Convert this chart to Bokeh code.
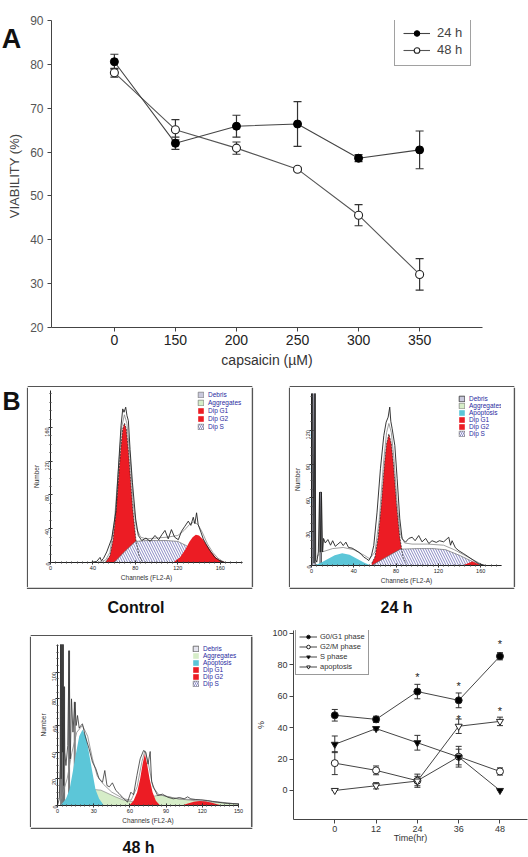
import math
from bokeh.plotting import figure
from bokeh.models import (Range1d, FixedTicker, SingleIntervalTicker, Whisker, TeeHead, Label,
                          Legend, LegendItem, ColumnDataSource, Spacer)
from bokeh.layouts import column, row
from bokeh.embed import file_html
from bokeh.resources import INLINE
from bokeh.core.properties import value

FONT = "Liberation Sans"
NAN = float("nan")

# ---------------- Panel A data ----------------
conc_labels = ["0", "150", "200", "250", "300", "350"]
via_24 = [80.6, 62.0, 65.9, 66.4, 58.6, 60.5]
err_24 = [1.7, 1.4, 2.5, 5.1, 0.8, 4.3]
via_48 = [78.1, 65.1, 60.9, 56.1, 45.6, 32.1]
err_48 = [1.0, 2.3, 1.4, 0.4, 2.4, 3.6]

# ---------------- Histogram data (channel, count) ----------------
ctrl_raw_ch = [38, 43.6, 46.7, 48, 50, 53, 57.7, 61.5, 64, 66.5, 68.1, 69.3, 70.9, 72.1, 73.4, 75, 77.2,
               80.3, 82.8, 86, 90, 94, 98.5, 102, 105, 107.9, 111, 114, 117, 120.5, 123.5, 126.7, 129.9,
               132.3, 134.6, 136.1, 137.7, 139.2, 141.8, 144, 147, 150.3, 155, 159.7, 164.4, 170, 181]
ctrl_raw_ct = [0, 1.3, 6, 2, 5, 12.5, 28.3, 59.7, 111, 162, 182, 178, 184, 174, 168, 134, 95,
               51.5, 32, 26, 29, 25, 32, 27, 33, 38, 28, 39, 30, 27, 37, 43, 49,
               44, 53.6, 46, 58.9, 45, 36, 28, 21, 14, 6, 2, 0, 0, 0]
ctrl_fit_ch = [45, 52, 56, 60, 64, 67, 69.7, 72, 75, 78, 81, 85, 90, 100, 110, 120, 126, 131, 135,
               139, 143, 148, 153, 158, 164]
ctrl_fit_ct = [0, 3, 12, 45, 110, 160, 175, 165, 125, 70, 40, 30, 28, 29, 30, 32, 38, 45, 48,
               45, 36, 22, 12, 5, 0]
ctrl_g1_ch = [52, 56, 59, 62, 64, 66, 68, 69.7, 71.5, 73.5, 75.5, 77.5, 80.5, 83.5, 87]
ctrl_g1_ct = [0.5, 8, 27, 64, 98, 132, 158, 165, 158, 132, 98, 64, 27, 8, 0.5]
ctrl_s_ch = [60, 70, 80, 90, 100, 110, 120, 128, 135, 142, 148]
ctrl_s_ct = [0, 13, 25, 26, 26, 26, 25, 20, 12, 5, 0]
ctrl_g2_ch = [117, 122, 127, 131, 134, 137, 140, 144, 148, 152, 156, 160, 165]
ctrl_g2_ct = [1.5, 6, 15, 24.5, 30, 33, 32, 27, 19.5, 12, 6, 2.5, 0.3]

h24_raw_ch = [0, 0.5, 1.2, 2.4, 3.2, 4, 5, 6.5, 7.6, 8.3, 9.4, 10.5, 11.4, 13, 15.5, 18, 20, 22.5, 25, 27.5,
              30, 32.5, 35, 38.4, 41, 44.7, 47, 49.5, 52, 54.2, 56.7, 58.9, 62, 65.2, 68.4, 70.6, 72.5, 74,
              75, 76.3, 78.8, 81, 83.5, 85.7, 88.9, 92, 95.2, 98, 101.4, 104.5, 108, 111, 114, 118, 121,
              125, 129.8, 131.5, 133, 136.1, 139.5, 144, 148.8, 153.5, 158.2, 164.5, 170, 180]
h24_raw_ct = [0, 160, 160, 2, 160, 5, 3, 12, 65, 11.8, 65, 12, 24, 20, 23, 18, 22, 17, 19, 21,
              17.7, 20.7, 16, 15.4, 14, 11.8, 10, 7.4, 6, 4.4, 8.9, 17.7, 47.3, 85.8, 115.4, 127.2, 131.6, 140.5,
              128, 121.3, 106.5, 77, 41.4, 23.7, 20.7, 24, 25.1, 22, 26.6, 21, 24, 19.5, 22, 20.5, 22,
              21, 25.1, 18, 22, 15.7, 13, 10.4, 7.4, 4.4, 1.5, 0, 0, 0]
h24_fit_ch = [5, 10, 20, 30, 40, 50, 55, 60, 64, 68, 71, 73.2, 75.5, 78, 81, 84, 88, 95, 110, 125,
              135, 145, 155, 163]
h24_fit_ct = [8, 12, 15, 16, 14, 9, 6, 12, 40, 90, 118, 126, 118, 95, 55, 28, 20, 19, 19, 18,
              14, 9, 4, 0]
h24_deb_left = [0.6, 8.0]
h24_deb_right = [3.6, 9.4]
h24_deb_top = [160, 65]
h24_apo_ch = [2, 8, 15, 22, 29, 36, 43, 50, 56]
h24_apo_ct = [0, 2, 5.5, 9, 10.9, 9.5, 6, 2.5, 0]
h24_g1_ch = [57, 60, 63, 66, 69, 71, 73.2, 75.5, 77.5, 80.5, 83.5, 86.5, 89.5]
h24_g1_ct = [2, 7.5, 25, 54, 90, 108, 116.7, 108, 90, 54, 25, 7.5, 2]
h24_s_ch = [57, 70, 84, 100, 115, 127, 140, 150, 161]
h24_s_ct = [0, 7, 14.5, 15, 15, 14, 9, 4.5, 0]
h24_g2_ch = [143, 148, 152, 156, 160]
h24_g2_ct = [0, 2, 3.5, 2, 0]

h48_raw_ch = [0, 1.5, 2.2, 2.6, 3.0, 3.6, 4.2, 4.6, 5.0, 5.5, 6.0, 7.0, 8.5, 9.6, 10.6, 11.6, 12.8, 14.4,
              15.5, 16.6, 18, 19.3, 20.7, 23, 26.2, 29, 31.8, 34.5, 37.3, 39.2, 41, 43, 45.5, 48.4, 51, 54,
              58, 60.8, 63, 65.8, 68.5, 71.3, 73.2, 75, 76.8, 78, 80.2, 83, 87, 91.2, 96, 101, 105, 107.8,
              110.5, 114.6, 118.8, 124.3, 128.4, 132.7, 136.8, 141, 150]
h48_raw_ct = [0, 5, 30, 130, 20, 130, 40, 130, 15, 89, 40, 30, 45, 116, 35, 80, 55, 77.5,
              60, 67.5, 58, 60, 61.2, 52, 42.5, 32.5, 27.5, 20, 17.5, 26.25, 15, 14, 17, 11.25, 9, 6,
              2.5, 10, 8, 22.5, 35, 41.25, 40, 31, 40.5, 18, 12.5, 7.5, 8.5, 6.25, 5, 6, 5, 6.5,
              5, 4.5, 4.25, 3.75, 3, 2.5, 2, 1.5, 1.25]
h48_fit_ch = [3, 8, 12, 16, 20.7, 25, 29, 33, 38, 45, 55, 61, 66, 70, 72.4, 75, 79, 84, 90, 100,
              120, 140, 150]
h48_fit_ct = [5, 20, 40, 55, 60, 52, 35, 22, 16, 10, 5, 4, 14, 33, 41, 33, 14, 8, 7, 5,
              4, 2, 1]
h48_deb_left = [2.6, 4.2, 5.3, 9.2, 13.9]
h48_deb_right = [3.4, 4.9, 5.9, 10.0, 14.7]
h48_deb_top = [130, 130, 89, 116, 77.5]
h48_apo_ch = [3, 7, 10, 13, 15.5, 18, 20.7, 23.5, 26, 28.5, 31.5, 34.5, 38]
h48_apo_ct = [0.5, 5, 12, 27, 40, 52, 56.75, 52, 40, 27, 12, 5, 0.5]
h48_agg_ch = [10, 20, 30, 36, 42, 48, 55, 61, 70, 80, 85, 92, 100, 110, 120, 130, 140, 150]
h48_agg_ct = [0, 8, 12, 11.5, 9, 6.5, 4, 3, 4, 7, 8, 6.5, 5, 4, 3, 2.5, 2, 1]
h48_g1_ch = [60, 63, 66, 68.5, 70.5, 72.4, 74.3, 76.3, 78.8, 81.5, 84.5]
h48_g1_ct = [0.5, 3.5, 10, 20, 31, 38.75, 31, 20, 10, 3.5, 0.5]
h48_g2_ch = [103, 108, 113, 118, 123, 128, 133, 137]
h48_g2_ct = [0, 1.5, 2.8, 3.3, 3, 2, 0.8, 0]

# ---------------- Cell-cycle time course ----------------
t_hours = [0, 12, 24, 36, 48]
g1_phase = [47.9, 45.3, 63.0, 57.4, 85.5]
g1_err = [3.7, 2.0, 4.6, 4.7, 2.3]
g2m_phase = [17.4, 12.8, 6.2, 21.5, 12.1]
g2m_err = [7.3, 2.8, 4.2, 6.6, 2.3]
s_phase = [29.4, 39.4, 30.4, 21.3, 0.0]
s_err = [5.3, 1.0, 4.7, 5.0, 0.0]
apoptosis = [0.0, 3.0, 6.0, 40.9, 44.0]
apo_err = [0.0, 2.0, 3.0, 4.6, 2.7]
star_t = [24, 36, 48, 36, 48]
star_y = [74.0, 68.7, 94.9, 47.4, 52.8]

RED = "#ec1c24"
CYAN = "#5cc6d8"
GREEN = "#d6edc8"
DEBRIS = "#c9c9dd"
LEG_TXT = "#2a2aa0"
BOX_COLOR = "#555555"
BOX_W = 1.6


def base_fig(width, height, borders, xr, yr, **kw):
    l, t, r, b = borders
    p = figure(width=width, height=height, output_backend="svg", toolbar_location=None,
               title_location=None, x_range=Range1d(*xr), y_range=Range1d(*yr),
               min_border_left=l, min_border_right=r, min_border_top=t, min_border_bottom=b, **kw)
    p.outline_line_color = None
    p.grid.visible = False
    p.background_fill_color = "white"
    p.border_fill_color = "white"
    return p


def text_fig(width, height, borders=(0, 0, 0, 0)):
    l, t, r, b = borders
    return base_fig(width, height, borders, (0, width - l - r), (0, height - t - b),
                    x_axis_location=None, y_axis_location=None)


def add_label(p, x, y, text, size, bold=False, color="#111", angle=0.0):
    p.add_layout(Label(x=x, y=y, text=text, text_font=FONT, text_font_size=size,
                       text_font_style="bold" if bold else "normal", text_color=color,
                       text_align="center", text_baseline="middle", angle=angle))


def edges(p, x0, y0, x1, y1):
    p.segment(x0=x0, y0=y0, x1=x1, y1=y1, line_color=BOX_COLOR, line_width=BOX_W)


def iso(p, w):
    return column(Spacer(width=w, height=0), p)


# ================= Panel A =================
pA = base_fig(504, 370, (27, 20, 46, 40), (-1.03, 6.03), (20, 90))
x_idx = list(range(len(conc_labels)))

for vals, errs in ((via_24, err_24), (via_48, err_48)):
    src = ColumnDataSource(dict(base=x_idx, upper=[v + e for v, e in zip(vals, errs)],
                                lower=[v - e for v, e in zip(vals, errs)]))
    pA.add_layout(Whisker(source=src, base="base", upper="upper", lower="lower",
                          line_color="#333", line_width=1.2,
                          upper_head=TeeHead(size=8, line_color="#333", line_width=1.2),
                          lower_head=TeeHead(size=8, line_color="#333", line_width=1.2)))

pA.line(x_idx, via_48, line_color="#555", line_width=1.1, legend_label="48 h")
pA.scatter(x_idx, via_48, marker="circle", size=8, fill_color="white", line_color="#222",
           line_width=1.1, legend_label="48 h")
pA.line(x_idx, via_24, line_color="#444", line_width=1.1, legend_label="24 h")
pA.scatter(x_idx, via_24, marker="circle", size=8, fill_color="black", line_color="black",
           legend_label="24 h")

ya = pA.yaxis[0]
ya.ticker = SingleIntervalTicker(interval=10, num_minor_ticks=0)
ya.minor_tick_line_color = None
ya.major_tick_in = 0
ya.major_tick_out = 4
ya.axis_line_color = "#444"
ya.major_tick_line_color = "#444"
ya.major_label_text_font = FONT
ya.major_label_text_font_size = "12px"
ya.major_label_text_color = "#555"
ya.major_label_standoff = 4

xa = pA.xaxis[0]
xa.ticker = FixedTicker(ticks=x_idx)
xa.major_label_overrides = {i: lab for i, lab in enumerate(conc_labels)}
xa.minor_tick_line_color = None
xa.major_tick_in = 0
xa.major_tick_out = 4
xa.axis_line_color = "#444"
xa.major_tick_line_color = "#444"
xa.major_label_text_font = FONT
xa.major_label_text_font_size = "14px"
xa.major_label_text_color = "#222"
xa.major_label_standoff = 3
xa.axis_label = "capsaicin (\u00b5M)"
xa.axis_label_text_font = FONT
xa.axis_label_text_font_size = "14px"
xa.axis_label_text_font_style = "normal"
xa.axis_label_text_color = "#333"
xa.axis_label_standoff = 4

lg = pA.legend[0]
lg.items = list(reversed(lg.items))
lg.location = (343, 261)
lg.margin = 0
lg.padding = 8
lg.spacing = 2
lg.glyph_width = 27
lg.glyph_height = 14
lg.label_height = 14
lg.label_standoff = 7
lg.label_text_font = FONT
lg.label_text_font_size = "13px"
lg.label_text_color = "#444"
lg.border_line_color = "#444"
lg.border_line_width = 1
lg.background_fill_alpha = 1.0

hA = text_fig(24, 370, (0, 20, 0, 40))          # frame spans y 20..330
add_label(hA, 11, 330 - 39, "A", "27px", bold=True)
add_label(hA, 14, 330 - 177, "VIABILITY (%)", "13px", color="#444", angle=math.pi / 2)


# ================= Histograms =================
def hist_axes(p, xint, yticks, ysub):
    xa_ = p.xaxis[0]
    ya_ = p.yaxis[0]
    xa_.ticker = SingleIntervalTicker(interval=xint, num_minor_ticks=8)
    minors = []
    v = 0.0
    while v <= yticks[-1] + (yticks[1] - yticks[0]) + 1e-9:
        minors.append(round(v, 6))
        v += ysub
    ya_.ticker = FixedTicker(ticks=yticks, minor_ticks=minors)
    for ax in (xa_, ya_):
        ax.axis_line_color = "#222"
        ax.major_tick_line_color = "#222"
        ax.minor_tick_line_color = "#444"
        ax.major_tick_in = 2
        ax.major_tick_out = 2
        ax.minor_tick_in = 1
        ax.minor_tick_out = 1
        ax.major_label_text_font = FONT
        ax.major_label_text_font_size = "5.5px"
        ax.major_label_text_color = "#222"
        ax.major_label_standoff = 1
        ax.axis_label_text_font = FONT
        ax.axis_label_text_font_size = "6.5px"
        ax.axis_label_text_font_style = "normal"
        ax.axis_label_text_color = "#333"
        ax.axis_label_standoff = 1
    xa_.axis_label = "Channels (FL2-A)"
    ya_.axis_label = "Number"
    ya_.major_label_orientation = math.pi / 2


def hist_legend(p, items, loc, h, spacing):
    leg = Legend(items=items, location=loc, margin=0, padding=0, spacing=spacing,
                 glyph_width=7, glyph_height=h, label_height=h, label_standoff=4,
                 label_text_font=FONT, label_text_font_size="6.5px", label_text_color=LEG_TXT,
                 border_line_color=None, background_fill_alpha=0.0)
    p.add_layout(leg)


def absent_quad(p, color):
    # component not present in this sample: one missing (NaN) entry, shown only in the legend
    return p.quad(left=[NAN], right=[NAN], top=[NAN], bottom=[NAN], fill_color=color,
                  line_color="#666", line_width=0.6)


def absent_hatch(p):
    return p.quad(left=[NAN], right=[NAN], top=[NAN], bottom=[NAN], fill_color="white",
                  line_color="#666", line_width=0.6, hatch_pattern="\\", hatch_color="#6a6ab4",
                  hatch_weight=0.8, hatch_scale=4)


def hatch_area(p, xs, ys):
    r = p.varea(x=xs, y1=0, y2=ys, fill_color="white", hatch_pattern="\\", hatch_color="#6a6ab4",
                hatch_weight=0.8, hatch_scale=5)
    p.line(xs, ys, line_color="#555", line_width=0.6)
    return r


# ---- Control: box x 28..251, y 387..587; inner frame x 50..242, y 390..562 ----
pC = base_fig(223, 200, (22, 3, 9, 25), (0, 181), (0, 203.8))
hist_axes(pC, 40, [0, 40, 80, 120, 160], 10)
r_deb = absent_quad(pC, DEBRIS)
r_agg = absent_quad(pC, GREEN)
r_g1 = pC.varea(x=ctrl_g1_ch, y1=0, y2=ctrl_g1_ct, fill_color=RED)
r_s = hatch_area(pC, ctrl_s_ch, ctrl_s_ct)
r_g2 = pC.varea(x=ctrl_g2_ch, y1=0, y2=ctrl_g2_ct, fill_color=RED)
r_s_leg = absent_hatch(pC)
pC.line(ctrl_g1_ch, ctrl_g1_ct, line_color="#222", line_width=0.7, line_dash="2 1")
pC.line(ctrl_fit_ch, ctrl_fit_ct, line_color="#888", line_width=0.8)
pC.line(ctrl_raw_ch, ctrl_raw_ct, line_color="#222", line_width=0.9)
hist_legend(pC, [LegendItem(label="Debris", renderers=[r_deb]),
                 LegendItem(label="Aggregates", renderers=[r_agg]),
                 LegendItem(label="Dip G1", renderers=[r_g1]),
                 LegendItem(label="Dip G2", renderers=[r_g2]),
                 LegendItem(label="Dip S", renderers=[r_s_leg])], (147, 132), 7, 1)

# ---- 24 h: box x 290..513, y 387..587; inner frame x 311..501, y 393..565 ----
p24 = base_fig(223, 200, (21, 6, 12, 22), (0, 179.7), (0, 152.6))
hist_axes(p24, 40, [0, 30, 60, 90, 120], 7.5)
r_deb = p24.quad(left=h24_deb_left, right=h24_deb_right, bottom=0, top=h24_deb_top,
                 fill_color=DEBRIS, line_color="#333", line_width=0.8)
r_agg = absent_quad(p24, GREEN)
r_apo = p24.varea(x=h24_apo_ch, y1=0, y2=h24_apo_ct, fill_color=CYAN)
r_g1 = p24.varea(x=h24_g1_ch, y1=0, y2=h24_g1_ct, fill_color=RED)
r_s = hatch_area(p24, h24_s_ch, h24_s_ct)
r_g2 = p24.varea(x=h24_g2_ch, y1=0, y2=h24_g2_ct, fill_color=RED)
r_s_leg = absent_hatch(p24)
p24.line(h24_g1_ch, h24_g1_ct, line_color="#222", line_width=0.7, line_dash="2 1")
p24.line(h24_fit_ch, h24_fit_ct, line_color="#888", line_width=0.8)
p24.line(h24_raw_ch, h24_raw_ct, line_color="#222", line_width=0.9)
hist_legend(p24, [LegendItem(label="Debris", renderers=[r_deb]),
                  LegendItem(label="Aggregates", renderers=[r_agg]),
                  LegendItem(label="Apoptosis", renderers=[r_apo]),
                  LegendItem(label="Dip G1", renderers=[r_g1]),
                  LegendItem(label="Dip G2", renderers=[r_g2]),
                  LegendItem(label="Dip S", renderers=[r_s_leg])], (147, 128), 7, 0)

# ---- 48 h: box x 31..251, y 636..827; inner frame x 57..238, y 644..805 ----
p48 = base_fig(219, 191, (26, 8, 12, 22), (0, 150), (0, 120.75))
hist_axes(p48, 30, [0, 20, 40, 60, 80, 100], 5)
r_deb = p48.quad(left=h48_deb_left, right=h48_deb_right, bottom=0, top=h48_deb_top,
                 fill_color="#e4e4ee", line_color="#555", line_width=0.8)
r_agg = p48.varea(x=h48_agg_ch, y1=0, y2=h48_agg_ct, fill_color=GREEN)
p48.line(h48_agg_ch, h48_agg_ct, line_color="#777", line_width=0.6)
r_apo = p48.varea(x=h48_apo_ch, y1=0, y2=h48_apo_ct, fill_color=CYAN)
r_g1 = p48.varea(x=h48_g1_ch, y1=0, y2=h48_g1_ct, fill_color=RED)
r_g2 = p48.varea(x=h48_g2_ch, y1=0, y2=h48_g2_ct, fill_color=RED)
r_s_leg = absent_hatch(p48)
p48.line(h48_fit_ch, h48_fit_ct, line_color="#888", line_width=0.8)
p48.line(h48_raw_ch, h48_raw_ct, line_color="#333", line_width=0.8)
hist_legend(p48, [LegendItem(label="Debris", renderers=[r_deb]),
                  LegendItem(label="Aggregates", renderers=[r_agg]),
                  LegendItem(label="Apoptosis", renderers=[r_apo]),
                  LegendItem(label="Dip G1", renderers=[r_g1]),
                  LegendItem(label="Dip G2", renderers=[r_g2]),
                  LegendItem(label="Dip S", renderers=[r_s_leg])], (135, 118), 7, 0)

# ---- frames (boxes) and captions around the histograms, drawn by strip figures ----
T2 = text_fig(528, 17)                       # y 370..387 : top edges
edges(T2, [27.2, 289.2], [0.8, 0.8], [251.8, 513.8], [0.8, 0.8])

hL = text_fig(28, 200)                       # x 0..28, y 387..587
edges(hL, [27.2], [0], [27.2], [200])
add_label(hL, 11, 200 - 13, "B", "25px", bold=True)
hM = text_fig(39, 200)                       # x 251..290
edges(hM, [0.8, 38.2], [0, 0], [0.8, 38.2], [200, 200])
hR = text_fig(15, 200)                       # x 513..528
edges(hR, [0.8], [0], [0.8], [200])

B4 = text_fig(528, 28)                       # y 587..615 : bottom edges + captions
edges(B4, [26.4, 289.2], [27.2, 27.2], [251.8, 513.8], [27.2, 27.2])
add_label(B4, 135.5, 28 - 20, "Control", "16px", bold=True)
add_label(B4, 396, 28 - 20, "24 h", "16px", bold=True)

T5 = text_fig(253, 21)                       # y 615..636
edges(T5, [30.2], [0.8], [251.8], [0.8])
hL48 = text_fig(31, 191)
edges(hL48, [30.2], [0], [30.2], [191])
hR48 = text_fig(3, 191)
edges(hR48, [1.2], [0], [1.2], [191])
B5 = text_fig(253, 30)                       # y 827..857
edges(B5, [30.2], [29.2], [251.8], [29.2])
add_label(B5, 138, 30 - 20, "48 h", "16px", bold=True)

# ================= Cell-cycle time course =================
pL = base_fig(275, 242, (39, 15, 1, 38), (-12, 56), (-18.5, 101.9))

series = [
    (g1_phase, g1_err, "circle", "black", "G0/G1 phase"),
    (g2m_phase, g2m_err, "circle", "white", "G2/M phase"),
    (s_phase, s_err, "inverted_triangle", "black", "S phase"),
    (apoptosis, apo_err, "inverted_triangle", "white", "apoptosis"),
]
legend_items = []
for vals, errs, marker, fill, name in series:
    src = ColumnDataSource(dict(base=t_hours, upper=[v + e for v, e in zip(vals, errs)],
                                lower=[v - e for v, e in zip(vals, errs)]))
    pL.add_layout(Whisker(source=src, base="base", upper="upper", lower="lower",
                          line_color="#333", line_width=1,
                          upper_head=TeeHead(size=6, line_color="#333", line_width=1),
                          lower_head=TeeHead(size=6, line_color="#333", line_width=1)))
for vals, errs, marker, fill, name in series:
    rl = pL.line(t_hours, vals, line_color="#444", line_width=1)
    rs = pL.scatter(t_hours, vals, marker=marker, size=7, fill_color=fill, line_color="#222",
                    line_width=1)
    legend_items.append(LegendItem(label=name, renderers=[rl, rs]))

pL.text(x=star_t, y=star_y, text=["*"] * len(star_t), text_font=value(FONT),
        text_font_size="11px", text_align="center", text_baseline="middle", text_color="#222",
        y_offset=3)

for ax in (pL.xaxis[0], pL.yaxis[0]):
    ax.axis_line_color = "#444"
    ax.major_tick_line_color = "#444"
    ax.minor_tick_line_color = None
    ax.major_tick_in = 0
    ax.major_tick_out = 4
    ax.major_label_text_font = FONT
    ax.major_label_text_font_size = "9px"
    ax.major_label_text_color = "#333"
    ax.major_label_standoff = 2
    ax.axis_label_text_font = FONT
    ax.axis_label_text_font_size = "9px"
    ax.axis_label_text_font_style = "normal"
    ax.axis_label_text_color = "#333"
pL.xaxis[0].ticker = FixedTicker(ticks=t_hours)
pL.yaxis[0].ticker = FixedTicker(ticks=[0, 20, 40, 60, 80, 100])
pL.xaxis[0].axis_label = "Time(hr)"
pL.xaxis[0].axis_label_standoff = -2
pL.yaxis[0].axis_label = "%"
pL.yaxis[0].axis_label_standoff = 3

legL = Legend(items=legend_items, location=(2, 144), margin=0, padding=3, spacing=1,
              glyph_width=18, glyph_height=9, label_height=9, label_standoff=3,
              label_text_font=FONT, label_text_font_size="7.5px", label_text_color="#333",
              border_line_color="#333", border_line_width=1, background_fill_alpha=1.0)
pL.add_layout(legL)

# ================= Layout =================
row1 = row(hA, pA)
row_mid = row(hL, iso(pC, 223), hM, iso(p24, 223), hR)
col48 = column(T5, row(hL48, iso(p48, 219), hR48), B5)
row3 = row(col48, iso(pL, 275))
layout = column(row1, T2, row_mid, B4, row3)

with open("out.html", "w") as fh:
    fh.write(file_html(layout, INLINE))
